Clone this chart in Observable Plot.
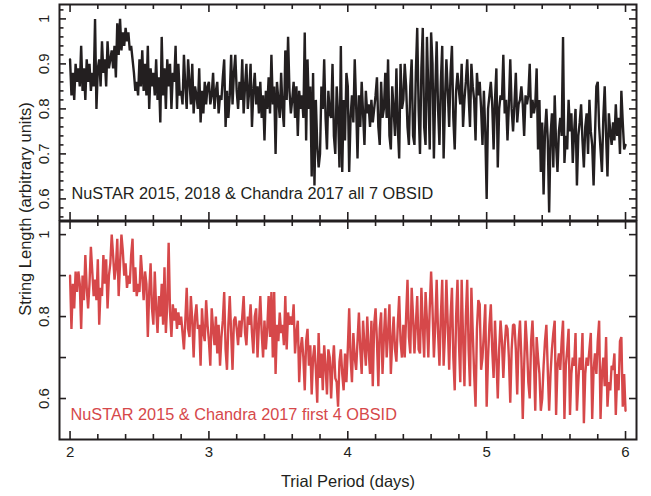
<!DOCTYPE html>
<html>
<head>
<meta charset="utf-8">
<script src="https://cdn.jsdelivr.net/npm/d3@7"></script>
<script src="https://cdn.jsdelivr.net/npm/@observablehq/plot@0.6"></script>
<style>
  html, body { margin: 0; padding: 0; background: #fff; }
  #figure { position: relative; width: 651px; height: 496px; overflow: hidden; font-family: "Liberation Sans", Arial, sans-serif; color: #231f20; }
  #figure > svg { position: absolute; left: 0; }
</style>
</head>
<body>
<div id="figure"></div>
<script>
// Trial periods run from 2.00 to 6.00 days in steps of 0.01 day.
const periodStart = 2;
const periodStep = 0.01;

// String length (x100) for all seven observations: NuSTAR 2015, 2018 and Chandra 2017.
const allObsid = [
  91, 83, 88, 82, 90, 86, 89, 85, 94, 84, 89, 82, 91, 86, 90, 84, 88, 85, 100, 80,
  89, 91, 85, 95, 88, 91, 85, 95, 89, 91, 93, 89, 94, 87, 99, 92, 100, 93, 97, 94,
  98, 95, 97, 93, 94, 91, 88, 84, 86, 83, 91, 85, 93, 84, 90, 83, 94, 80, 89, 85,
  88, 83, 91, 82, 87, 77, 96, 83, 89, 80, 91, 85, 90, 80, 88, 86, 94, 80, 90, 83,
  84, 81, 92, 85, 80, 91, 86, 81, 90, 79, 85, 83, 80, 89, 77, 84, 79, 86, 81, 85,
  86, 81, 83, 88, 80, 84, 86, 79, 83, 82, 87, 91, 76, 84, 78, 83, 92, 81, 88, 92,
  84, 80, 86, 82, 91, 79, 85, 90, 80, 84, 90, 76, 84, 88, 81, 85, 79, 86, 78, 83,
  73, 84, 80, 87, 79, 92, 81, 85, 70, 86, 82, 78, 88, 80, 76, 93, 82, 96, 84, 79,
  82, 86, 78, 85, 74, 84, 80, 83, 78, 97, 73, 91, 80, 85, 65, 88, 63, 82, 72, 67,
  70, 85, 80, 91, 78, 71, 84, 79, 78, 90, 74, 70, 85, 79, 67, 94, 66, 82, 73, 88,
  85, 66, 78, 83, 77, 91, 81, 69, 83, 76, 86, 79, 72, 84, 79, 81, 76, 82, 77, 80,
  83, 87, 76, 72, 86, 78, 80, 88, 78, 91, 74, 71, 85, 80, 74, 89, 76, 69, 90, 80,
  82, 90, 85, 76, 72, 85, 91, 74, 72, 88, 98, 80, 70, 89, 98, 76, 72, 96, 84, 71,
  97, 90, 69, 84, 95, 80, 72, 86, 94, 69, 82, 91, 84, 76, 88, 94, 78, 71, 84, 88,
  84, 81, 90, 76, 82, 86, 91, 83, 76, 90, 85, 82, 73, 88, 83, 86, 80, 72, 84, 75,
  60, 80, 83, 86, 81, 71, 82, 89, 67, 80, 83, 82, 92, 79, 82, 73, 81, 91, 80, 75,
  81, 88, 77, 81, 82, 85, 81, 74, 83, 81, 83, 90, 78, 82, 79, 81, 89, 71, 82, 66,
  77, 61, 75, 80, 73, 57, 74, 79, 67, 83, 72, 66, 75, 78, 74, 96, 68, 74, 71, 82,
  75, 79, 68, 75, 80, 63, 74, 77, 81, 73, 67, 76, 79, 70, 82, 75, 72, 63, 74, 85,
  86, 76, 71, 66, 78, 85, 74, 65, 79, 75, 72, 77, 73, 81, 74, 78, 70, 84, 77, 71,
  72
];

// String length (x100) for the first four observations: NuSTAR 2015 and Chandra 2017.
const firstFour = [
  90, 77, 88, 82, 91, 86, 91, 88, 77, 90, 84, 95, 87, 82, 88, 97, 91, 85, 89, 84,
  94, 78, 87, 85, 95, 88, 94, 82, 90, 93, 100, 95, 89, 92, 99, 85, 93, 100, 96, 90,
  93, 87, 90, 88, 95, 99, 86, 92, 85, 88, 86, 95, 90, 84, 91, 88, 75, 86, 93, 82,
  78, 91, 82, 76, 85, 80, 88, 78, 92, 76, 83, 98, 81, 75, 83, 79, 82, 77, 81, 78,
  80, 76, 72, 79, 87, 77, 75, 85, 79, 70, 80, 83, 77, 78, 68, 82, 76, 74, 84, 78,
  74, 68, 82, 77, 73, 80, 71, 78, 68, 75, 79, 86, 72, 67, 78, 85, 76, 67, 79, 80,
  77, 73, 79, 75, 80, 85, 76, 73, 80, 78, 83, 76, 71, 80, 82, 70, 78, 85, 76, 70,
  79, 72, 77, 85, 75, 86, 70, 86, 66, 78, 74, 81, 76, 78, 73, 85, 72, 81, 78, 80,
  78, 83, 71, 76, 79, 64, 72, 75, 70, 62, 74, 77, 68, 73, 61, 70, 73, 67, 59, 76,
  65, 71, 62, 73, 68, 61, 72, 70, 60, 68, 73, 65, 64, 58, 69, 72, 66, 62, 71, 64,
  72, 82, 70, 64, 76, 70, 67, 74, 81, 72, 66, 79, 73, 68, 80, 72, 66, 79, 63, 78,
  82, 74, 63, 77, 81, 66, 75, 82, 70, 76, 83, 66, 74, 80, 72, 69, 78, 85, 74, 70,
  78, 70, 80, 89, 75, 71, 87, 80, 71, 78, 85, 72, 71, 87, 78, 70, 86, 79, 70, 82,
  91, 82, 70, 78, 89, 76, 68, 80, 89, 68, 76, 89, 78, 67, 80, 87, 70, 62, 80, 89,
  74, 64, 89, 75, 63, 80, 89, 72, 63, 87, 76, 66, 58, 77, 84, 83, 67, 70, 76, 83,
  58, 70, 78, 83, 72, 65, 79, 70, 60, 72, 79, 74, 65, 73, 78, 77, 70, 59, 72, 78,
  78, 72, 61, 74, 79, 70, 55, 68, 79, 73, 64, 60, 74, 79, 70, 57, 75, 70, 66, 57,
  60, 68, 74, 78, 67, 57, 66, 72, 76, 79, 56, 68, 71, 67, 74, 79, 55, 68, 72, 77,
  56, 66, 70, 68, 76, 57, 64, 70, 67, 76, 54, 66, 70, 68, 72, 76, 55, 67, 71, 66,
  74, 79, 55, 66, 70, 63, 75, 58, 64, 62, 68, 67, 71, 56, 66, 62, 74, 75, 58, 66,
  57
];

// Axis ticks.
const xMajorTicks = [2, 3, 4, 5, 6];
const xMinorTicks = [2.2, 2.4, 2.6, 2.8, 3.2, 3.4, 3.6, 3.8, 4.2, 4.4, 4.6, 4.8, 5.2, 5.4, 5.6, 5.8];
const topMajorTicks = [0.6, 0.7, 0.8, 0.9, 1];
const topMinorTicks = [0.56, 0.58, 0.62, 0.64, 0.66, 0.68, 0.72, 0.74, 0.76, 0.78, 0.82, 0.84, 0.86, 0.88, 0.92, 0.94, 0.96, 0.98, 1.02];
const bottomTicks = [0.6, 0.7, 0.8, 0.9, 1];
const bottomTickLabels = [0.6, 0.8, 1];

// Text.
const topNote = "NuSTAR 2015, 2018 & Chandra 2017 all 7 OBSID";
const bottomNote = "NuSTAR 2015 & Chandra 2017 first 4 OBSID";
const xTitle = "Trial Period (days)";
const yTitle = "String Length (arbitrary units)";

const ink = "#231f20";
const red = "#d6484a";

const toRows = (values) => values.map((v, i) => ({
  period: +(periodStart + i * periodStep).toFixed(2),
  length: v / 100
}));

const width = 651;
const fullHeight = 496;
const marginLeft = 59;
const marginRight = 15;
const xDomain = [1.924, 6.079];
const font = { fontFamily: "Liberation Sans, Arial, sans-serif", fontSize: "15px", color: ink, background: "transparent" };

// Short inward ticks on all four sides of a panel, built from rules with insets.
function frameTicks(innerHeight, innerWidth, yMajor, yMinor) {
  const sw = 1.6;
  const out = [];
  for (const [ticks, len] of [[xMajorTicks, 8], [xMinorTicks, 5]]) {
    out.push(Plot.ruleX(ticks, { x: d => d, insetTop: innerHeight - len, stroke: ink, strokeWidth: sw }));
    out.push(Plot.ruleX(ticks, { x: d => d, insetBottom: innerHeight - len, stroke: ink, strokeWidth: sw }));
  }
  for (const [ticks, len] of [[yMajor, 7], [yMinor, 4.5]]) {
    if (!ticks.length) continue;
    out.push(Plot.ruleY(ticks, { y: d => d, insetRight: innerWidth - len, stroke: ink, strokeWidth: sw }));
    out.push(Plot.ruleY(ticks, { y: d => d, insetLeft: innerWidth - len, stroke: ink, strokeWidth: sw }));
  }
  return out;
}

const innerWidth = width - marginLeft - marginRight;

// Shared vertical title, running along both panels.
const titlePlot = Plot.plot({
  width, height: fullHeight, margin: 0,
  style: font,
  marks: [
    Plot.text([yTitle], { text: d => d, frameAnchor: "left", dx: 30, dy: -39.5, rotate: -90, lineAnchor: "bottom", textAnchor: "middle", fill: ink, fontSize: 16.5 })
  ]
});
titlePlot.style.top = "0px";

// Upper panel: all seven observations.
const topHeight = 221, topMarginTop = 4, topMarginBottom = 1;
const topPlot = Plot.plot({
  width, height: topHeight,
  marginLeft, marginRight, marginTop: topMarginTop, marginBottom: topMarginBottom,
  style: font,
  x: { domain: xDomain, axis: null },
  y: { domain: [0.552, 1.032], axis: null },
  marks: [
    Plot.line(toRows(allObsid), { x: "period", y: "length", stroke: ink, strokeWidth: 2.4, strokeLinejoin: "miter" }),
    ...frameTicks(topHeight - topMarginTop - topMarginBottom, innerWidth, topMajorTicks, topMinorTicks),
    Plot.axisY(topMajorTicks, { anchor: "left", tickSize: 0, tickPadding: 11, tickRotate: -90, tickFormat: d => String(d), label: null, fill: ink }),
    Plot.text([topNote], { text: d => d, frameAnchor: "bottom-left", dx: 12, dy: -22, lineAnchor: "bottom", textAnchor: "start", fill: ink, fontSize: 16.3 }),
    Plot.frame({ stroke: ink, strokeWidth: 2 })
  ]
});
topPlot.style.top = "0px";

// Lower panel: first four observations.
const botHeight = 276, botMarginTop = 1, botMarginBottom = 57;
const bottomPlot = Plot.plot({
  width, height: botHeight,
  marginLeft, marginRight, marginTop: botMarginTop, marginBottom: botMarginBottom,
  style: font,
  x: { domain: xDomain, axis: null },
  y: { domain: [0.5, 1.032], axis: null },
  marks: [
    Plot.line(toRows(firstFour), { x: "period", y: "length", stroke: red, strokeWidth: 2.4, strokeLinejoin: "miter" }),
    ...frameTicks(botHeight - botMarginTop - botMarginBottom, innerWidth, bottomTicks, []),
    Plot.axisY(bottomTickLabels, { anchor: "left", tickSize: 0, tickPadding: 11, tickRotate: -90, tickFormat: d => String(d), label: null, fill: ink }),
    Plot.axisX(xMajorTicks, { anchor: "bottom", tickSize: 0, tickPadding: 7, tickFormat: d => String(d), label: null, fill: ink }),
    Plot.text([bottomNote], { text: d => d, frameAnchor: "bottom-left", dx: 11, dy: -20, lineAnchor: "bottom", textAnchor: "start", fill: red, fontSize: 16.3 }),
    Plot.text([xTitle], { text: d => d, frameAnchor: "bottom", dy: 47, lineAnchor: "bottom", fill: ink, fontSize: 16.5 }),
    Plot.frame({ stroke: ink, strokeWidth: 2 })
  ]
});
bottomPlot.style.top = "220px";

const fig = document.getElementById("figure");
fig.appendChild(titlePlot);
fig.appendChild(topPlot);
fig.appendChild(bottomPlot);
</script>
</body>
</html>
